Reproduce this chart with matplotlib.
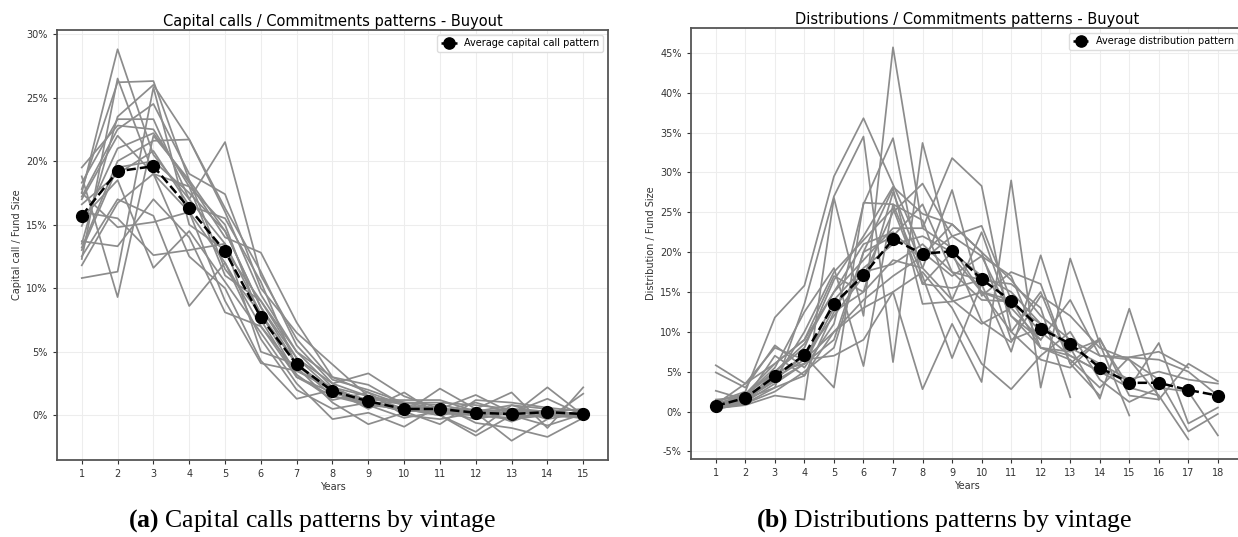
import matplotlib
matplotlib.use("Agg")
import matplotlib.pyplot as plt
from matplotlib.ticker import FuncFormatter, MultipleLocator

# ---- data (values in % of fund size) ----
call_years = list(range(1, 16))
avg_calls = [15.7, 19.2, 19.6, 16.3, 12.9, 7.7, 4.0, 1.9, 1.1, 0.5, 0.5, 0.2, 0.1, 0.25, 0.1]

call_vintages = [
    [17.5, 28.8, 20.5, 17.0, 13.5, 8.0, 4.0, 1.5, 1.0, 0.5, 0.2, 0.0, -0.2, 0.1, 0.0],
    [12.3, 26.5, 19.0, 16.0, 12.0, 7.0, 3.5, 2.0, 1.2, 0.3, 0.5, 0.2, 0.5, -0.3, 0.2],
    [17.8, 26.2, 26.3, 18.5, 14.5, 8.5, 4.5, 2.5, 1.5, 0.8, 0.3, -0.3, 0.2, 0.3, 0.1],
    [13.5, 23.5, 26.0, 21.7, 16.0, 9.5, 5.0, 2.2, 1.0, 0.5, 0.0, 0.5, -0.5, 0.5, -0.2],
    [18.3, 23.3, 23.3, 17.0, 21.5, 11.0, 6.0, 2.8, 2.0, 1.0, 0.8, 0.3, 0.5, 0.0, 0.3],
    [19.5, 22.8, 22.5, 18.0, 15.0, 7.5, 3.0, 1.8, 0.8, 0.5, 0.3, 0.0, -0.3, 0.0, -0.2],
    [17.2, 22.5, 24.5, 19.0, 17.4, 10.0, 6.5, 4.0, 1.5, 1.0, 1.0, 0.8, 0.5, 0.3, 0.1],
    [14.9, 21.0, 22.2, 18.3, 14.0, 12.8, 7.3, 3.0, 2.4, 0.8, 0.5, 0.3, 0.8, 0.5, 0.0],
    [13.2, 20.0, 21.6, 21.7, 16.3, 11.3, 5.5, 2.5, 3.3, 1.5, 0.5, 1.6, 0.2, 0.3, 0.5],
    [16.6, 19.0, 20.8, 16.5, 15.5, 10.5, 3.8, 1.0, -0.7, 0.2, 2.1, 0.5, 1.8, -1.0, 2.2],
    [10.8, 11.3, 25.8, 15.0, 13.0, 9.0, 4.5, 2.0, 0.5, 1.8, 0.0, -1.6, 0.0, 2.2, 0.0],
    [18.8, 9.3, 22.0, 18.5, 11.5, 8.0, 3.2, 1.2, 1.8, 0.0, -0.3, 0.2, -2.0, -0.3, 1.7],
    [15.5, 18.5, 11.6, 14.5, 10.5, 6.5, 2.5, -0.3, 0.2, -0.9, 0.8, -0.6, -1.0, -1.7, -0.2],
    [12.5, 17.0, 15.7, 8.6, 12.0, 6.0, 2.0, 0.5, 1.0, 0.3, -0.7, 1.2, 1.0, 0.6, 0.3],
    [11.8, 16.7, 19.0, 12.5, 10.0, 4.3, 1.3, 2.0, 1.2, 1.2, 1.2, 0.3, 0.0, 0.0, -0.2],
    [17.5, 14.8, 15.2, 16.0, 9.0, 4.1, 3.5, 2.2, 1.5, 0.5, 0.0, -1.3, 0.8, 0.0, 0.2],
    [13.7, 13.3, 17.0, 14.0, 8.1, 7.0, 3.0, 1.5, 0.8, -0.2, 0.3, 1.0, 0.2, 1.3, 0.0],
    [16.0, 15.5, 12.6, 13.0, 13.5, 5.0, 4.0, 1.8, 1.0, 1.0, 0.5, 0.0, 0.5, 0.3, 0.0],
    [17.0, 22.0, 19.0, 18.0, 11.0, 9.0, 5.0, 3.0, 1.8, 0.8, 0.3, 0.5, 0.0, -0.8, 0.1],
    [13.0, 19.5, 20.0, 17.5, 14.5, 8.5, 4.0, 2.0, 1.0, 0.3, 0.5, 0.0, 0.3, 0.3, 0.0],
]

dist_years = list(range(1, 19))
avg_dists = [0.7, 1.7, 4.4, 7.1, 13.5, 17.1, 21.6, 19.8, 20.1, 16.6, 13.9, 10.4, 8.5, 5.5, 3.6, 3.6, 2.7, 2.0]

dist_vintages = [
    [0.5, 1.2, 3.5, 6.0, 14.0, 18.0, 21.0, 22.0, 20.0, 17.0, 15.0, 11.0, 8.0, 6.0, 4.0, 5.0, 4.0, 3.5],
    [1.0, 2.0, 5.0, 8.0, 16.5, 22.0, 28.2, 24.8, 23.5, 20.0, 16.5, 12.0, 9.0, 7.0, 6.8, 6.5, 5.0, 2.0],
    [0.8, 1.8, 4.5, 7.0, 12.0, 17.0, 25.0, 28.6, 22.0, 23.3, 14.0, 10.0, 7.0, 5.0, 3.0, 8.6, -1.5, 0.5],
    [5.8, 3.5, 6.0, 9.0, 17.0, 15.0, 19.0, 18.0, 27.8, 14.5, 17.5, 16.0, 6.0, 9.2, 2.0, 1.5, 6.0, 3.8],
    [4.9, 3.0, 8.3, 5.5, 11.0, 26.0, 34.3, 16.0, 20.0, 11.3, 8.7, 14.5, 12.0, 8.0, 6.5, 4.0, -2.5, -0.3],
    [2.6, 1.5, 7.0, 4.5, 10.0, 13.0, 15.0, 17.5, 13.0, 6.0, 2.8, 7.0, 10.0, 4.0, 1.2, 3.0, 2.5, -3.0],
    [1.2, 2.5, 11.8, 15.8, 29.5, 36.8, 28.5, 20.0, 17.0, 19.5, 12.0, 9.0, 14.0, 7.0, 6.5, 2.0, -3.5],
    [0.6, 1.0, 3.0, 13.5, 27.0, 34.5, 6.2, 33.7, 19.5, 15.0, 14.0, 8.0, 6.5, 3.0, 6.8, 7.5, 5.5],
    [0.4, 0.8, 2.0, 1.5, 26.8, 12.0, 45.7, 23.0, 31.8, 28.3, 10.0, 6.5, 5.5, 9.0, 3.0, 2.0],
    [0.7, 2.0, 5.5, 12.5, 18.0, 5.7, 26.0, 17.0, 6.7, 16.0, 7.5, 19.6, 8.0, 1.6, 12.9, 1.5],
    [0.9, 3.5, 8.0, 6.5, 7.0, 9.0, 15.0, 2.8, 11.0, 3.7, 29.0, 3.0, 19.2, 8.5, -0.5],
    [1.5, 1.8, 4.0, 7.0, 3.0, 26.2, 26.0, 24.0, 14.0, 22.5, 12.0, 8.0, 7.0, 5.0, 4.0],
    [0.3, 1.0, 2.5, 5.0, 8.0, 20.0, 28.0, 13.5, 13.8, 15.0, 10.0, 15.0, 6.0, 2.0],
    [1.3, 2.2, 6.0, 9.0, 15.0, 21.0, 22.5, 19.0, 22.0, 19.5, 17.0, 8.0, 7.5, 9.0],
    [1.0, 1.5, 3.8, 6.0, 13.0, 17.5, 18.5, 21.0, 17.5, 16.5, 16.0, 13.0, 1.8],
    [0.8, 2.2, 5.0, 8.5, 15.0, 19.0, 23.0, 23.0, 20.5, 15.0, 13.5, 11.0, 8.0],
    [0.6, 1.4, 4.2, 6.5, 10.0, 14.0, 17.0, 19.5, 23.5, 20.0, 9.0, 10.5],
    [1.1, 1.6, 3.0, 4.5, 12.5, 15.0, 27.5, 18.0, 14.0, 11.0, 13.0, 9.0],
    [0.9, 1.3, 5.0, 6.0, 9.0, 20.0, 22.0, 26.0, 17.5, 14.0, 13.8],
    [0.5, 1.7, 4.0, 10.0, 17.5, 21.5, 25.5, 16.0, 15.5, 16.5],
]

plt.rcParams["font.family"] = ["DejaVu Sans"]
plt.rcParams["mathtext.fontset"] = "custom"
plt.rcParams["mathtext.rm"] = "Liberation Serif"
plt.rcParams["mathtext.bf"] = "Liberation Serif:bold"

W, H = 1238, 537
fig = plt.figure(figsize=(W / 100, H / 100), dpi=100)

pct = FuncFormatter(lambda v, _: f"{v:.0f}%")


def style_axes(ax, years):
    ax.grid(True, color="#ededed", linewidth=0.8)
    ax.set_axisbelow(True)
    ax.set_xticks(years)
    ax.yaxis.set_major_locator(MultipleLocator(5))
    ax.yaxis.set_major_formatter(pct)
    ax.tick_params(labelsize=7, colors="#333333", length=3, width=0.8)
    for s in ax.spines.values():
        s.set_color("#555555")
        s.set_linewidth(1.3)
    ax.set_xlabel("Years", fontsize=7, color="#333333", labelpad=2)


def draw_panel(ax, years, vintages, avg, title, ylabel, label):
    for v in vintages:
        ax.plot(years[:len(v)], v, color="#8c8c8c", linewidth=1.25, zorder=2)
    ax.plot(years, avg, color="black", linestyle="--", linewidth=1.8,
            marker="o", markersize=8.5, label=label, zorder=3)
    style_axes(ax, years)
    ax.set_title(title, fontsize=10.5, pad=3)
    ax.set_ylabel(ylabel, fontsize=7, color="#333333", labelpad=3)
    ax.legend(loc="upper right", fontsize=7, frameon=True, fancybox=True,
              framealpha=1, edgecolor="#dddddd", handlelength=1.6, markerscale=0.95,
              borderpad=0.4)


ax1 = fig.add_axes([56.7 / W, (H - 460.3) / H, (608.3 - 56.7) / W, (460.3 - 29.7) / H])
draw_panel(ax1, call_years, call_vintages, avg_calls,
           "Capital calls / Commitments patterns - Buyout",
           "Capital call / Fund Size", "Average capital call pattern")

ax2 = fig.add_axes([690.7 / W, (H - 459) / H, (1243 - 690.7) / W, (459 - 27.7) / H])
draw_panel(ax2, dist_years, dist_vintages, avg_dists,
           "Distributions / Commitments patterns - Buyout",
           "Distribution / Fund Size", "Average distribution pattern")

fig.text(312 / W, 1 - 521 / H, r"$\mathbf{(a)}$ Capital calls patterns by vintage",
         ha="center", va="center", fontsize=18.5, family="Liberation Serif")
fig.text(944 / W, 1 - 521 / H, r"$\mathbf{(b)}$ Distributions patterns by vintage",
         ha="center", va="center", fontsize=18.5, family="Liberation Serif")

fig.savefig("out.png", dpi=100)
